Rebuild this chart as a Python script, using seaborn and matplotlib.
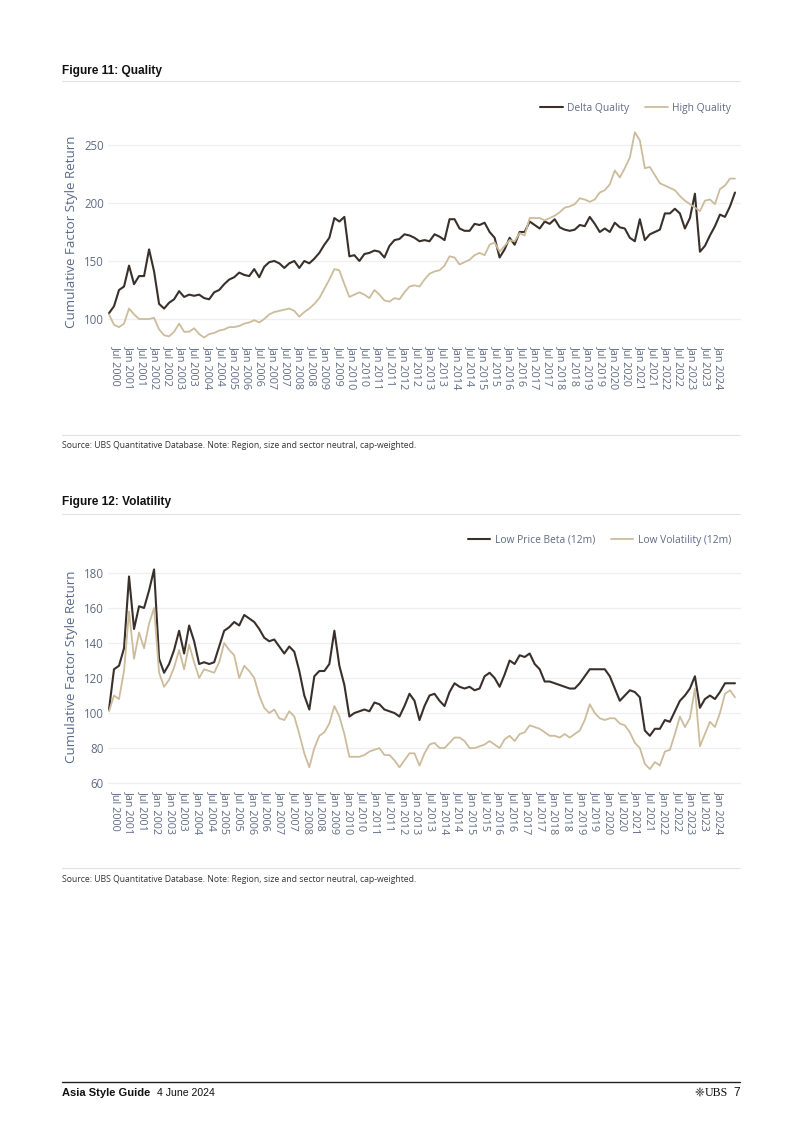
import numpy as np
import pandas as pd
import matplotlib
matplotlib.use("Agg")
import matplotlib.pyplot as plt
import seaborn as sns

# ---------------- data ----------------
delta_quality = [105, 111, 125, 128, 146, 130, 137, 137, 160, 141, 113, 109, 114, 117, 124, 119, 121, 120, 121, 118,
                 117, 123, 125, 130, 134, 136, 140, 138, 137, 143, 136, 145, 149, 150, 148, 144, 148, 150, 144, 150,
                 148, 152, 157, 164, 170, 187, 184, 188, 154, 155, 150, 156, 157, 159, 158, 153, 163, 168, 169, 173,
                 172, 170, 167, 168, 167, 173, 171, 168, 186, 186, 178, 176, 176, 182, 181, 183, 175, 170, 153, 160,
                 170, 164, 175, 175, 184, 181, 178, 184, 182, 186, 179, 177, 176, 177, 181, 180, 188, 182, 175, 178,
                 175, 183, 179, 178, 170, 167, 186, 168, 173, 175, 177, 191, 191, 195, 191, 178, 187, 208, 158, 163,
                 172, 180, 190, 188, 197, 209]
high_quality = [104, 95, 93, 96, 109, 104, 100, 100, 100, 101, 91, 86, 85, 89, 96, 89, 89, 92, 87, 84,
                87, 88, 90, 91, 93, 93, 94, 96, 97, 99, 97, 100, 104, 106, 107, 108, 109, 107, 102, 106,
                109, 113, 118, 126, 134, 143, 142, 130, 119, 121, 123, 121, 118, 125, 121, 116, 115, 118, 117, 123,
                128, 129, 128, 134, 139, 141, 142, 146, 154, 153, 147, 149, 151, 155, 157, 155, 164, 166, 158, 163,
                168, 167, 174, 172, 187, 187, 187, 185, 187, 189, 192, 196, 197, 199, 204, 203, 201, 203, 209, 211,
                216, 228, 222, 230, 239, 261, 254, 230, 231, 224, 217, 215, 213, 211, 206, 202, 199, 196, 193, 202,
                203, 199, 212, 215, 221, 221]

low_price_beta = [102, 125, 127, 137, 178, 148, 161, 160, 170, 182, 131, 123, 128, 136, 147, 134, 150, 141, 128, 129,
                  128, 129, 138, 147, 149, 152, 150, 156, 154, 152, 148, 143, 141, 142, 138, 134, 138, 135, 124, 110,
                  102, 121, 124, 124, 128, 147, 127, 116, 98, 100, 101, 102, 101, 106, 105, 102, 101, 100, 98, 104,
                  111, 107, 96, 104, 110, 111, 107, 104, 112, 117, 115, 114, 115, 113, 114, 121, 123, 120, 115, 122,
                  130, 128, 133, 132, 134, 128, 125, 118, 118, 117, 116, 115, 114, 114, 117, 121, 125, 125, 125, 125,
                  121, 114, 107, 110, 113, 112, 109, 90, 87, 91, 91, 96, 95, 101, 107, 110, 114, 121, 103, 108,
                  110, 108, 112, 117, 117, 117]
low_volatility = [101, 110, 108, 124, 158, 131, 146, 137, 151, 160, 123, 115, 119, 126, 136, 125, 139, 129, 120, 125,
                  124, 123, 129, 140, 136, 133, 120, 127, 124, 120, 110, 103, 100, 102, 97, 96, 101, 98, 88, 77,
                  69, 80, 87, 89, 94, 104, 98, 88, 75, 75, 75, 76, 78, 79, 80, 76, 76, 73, 69, 73,
                  77, 77, 70, 77, 82, 83, 80, 80, 83, 86, 86, 84, 80, 80, 81, 82, 84, 82, 80, 85,
                  87, 84, 88, 89, 93, 92, 91, 89, 87, 87, 86, 88, 86, 88, 90, 96, 105, 100, 97, 96,
                  97, 97, 94, 93, 89, 83, 80, 71, 68, 72, 70, 78, 79, 88, 98, 92, 97, 114, 81, 88,
                  95, 92, 100, 111, 113, 109]

quality_ticklabels = ["Jul 2000", "Jan 2001", "Jul 2001", "Jan 2002", "Jul 2002", "Jan 2003", "Jul 2003", "Jan 2004",
                      "Jul 2004", "Jan 2005", "Jan 2006", "Jul 2006", "Jan 2007", "Jul 2007", "Jan 2008", "Jul 2008",
                      "Jan 2009", "Jul 2009", "Jan 2010", "Jul 2010", "Jan 2011", "Jul 2011", "Jan 2012", "Jul 2012",
                      "Jan 2013", "Jul 2013", "Jan 2014", "Jul 2014", "Jan 2015", "Jul 2015", "Jan 2016", "Jul 2016",
                      "Jan 2017", "Jul 2017", "Jan 2018", "Jul 2018", "Jan 2019", "Jul 2019", "Jan 2020", "Jul 2020",
                      "Jan 2021", "Jul 2021", "Jan 2022", "Jul 2022", "Jan 2023", "Jul 2023", "Jan 2024"]
vol_ticklabels = ["Jul 2000", "Jan 2001", "Jul 2001", "Jan 2002", "Jan 2003", "Jul 2003", "Jan 2004", "Jul 2004",
                  "Jan 2005", "Jul 2005", "Jan 2006", "Jul 2006", "Jan 2007", "Jul 2007", "Jan 2008", "Jul 2008",
                  "Jan 2009", "Jan 2010", "Jul 2010", "Jan 2011", "Jul 2011", "Jan 2012", "Jan 2013", "Jul 2013",
                  "Jan 2014", "Jul 2014", "Jan 2015", "Jul 2015", "Jan 2016", "Jul 2016", "Jan 2017", "Jul 2017",
                  "Jan 2018", "Jul 2018", "Jan 2019", "Jul 2019", "Jan 2020", "Jul 2020", "Jan 2021", "Jul 2021",
                  "Jan 2022", "Jul 2022", "Jan 2023", "Jul 2023", "Jan 2024"]

quality_yticks = [100, 150, 200, 250]
vol_yticks = [60, 80, 100, 120, 140, 160, 180]

# ---------------- style ----------------
sns.set_style("white")
plt.rcParams["font.family"] = ["Open Sans", "DejaVu Sans"]

DARK = "#3a302b"
TAN = "#cdbc9c"
AXIS_TXT = "#5f6b84"
GRID = "#efefef"

W, H = 802, 1134
fig = plt.figure(figsize=(W / 100, H / 100), dpi=100)
fig.patch.set_facecolor("white")
# invisible full-figure axes for page furniture (annotations)
page = fig.add_axes([0, 0, 1, 1], zorder=-1)
page.set_axis_off()
page.set_xlim(0, W)
page.set_ylim(H, 0)


def fx(px):
    return px / W


def fy(py):
    return 1 - py / H


def hline(y, x0=62, x1=740, color="#e2e2e2", lw=0.8):
    page.plot([x0, x1], [y, y], color=color, lw=lw)


def make_panel(top_px, bot_px, series, names, ylim, yticks, ticklabels, legend_y, ylabel_y):
    ax = fig.add_axes([fx(108), fy(bot_px), fx(741) - fx(108), (bot_px - top_px) / H])
    n = len(series[0])
    idx = np.arange(n)
    df = pd.DataFrame({"idx": np.tile(idx, 2),
                       "value": np.concatenate([series[0], series[1]]),
                       "series": np.repeat(names, n)})
    sns.lineplot(data=df, x="idx", y="value", hue="series", palette=[DARK, TAN],
                 ax=ax, legend=False, estimator=None)
    ax.lines[0].set_linewidth(1.5)
    ax.lines[1].set_linewidth(1.3)
    ax.set_xlim(-0.2, 126.2)
    ax.set_ylim(*ylim)
    ax.set_yticks(yticks)
    ax.set_yticklabels([str(v) for v in yticks], color=AXIS_TXT, fontsize=8.3)
    pos = np.linspace(1.4, 121.8, len(ticklabels))
    ax.set_xticks(pos)
    ax.set_xticklabels(ticklabels, rotation=270, color=AXIS_TXT, fontsize=7.8, ha="center", va="top")
    ax.tick_params(axis="both", length=0)
    ax.tick_params(axis="y", pad=3)
    ax.tick_params(axis="x", pad=4)
    ax.grid(axis="y", color=GRID, lw=0.9)
    ax.grid(axis="x", visible=False)
    for s in ax.spines.values():
        s.set_visible(False)
    ax.set_xlabel("")
    ax.set_ylabel("")
    fig.text(fx(72), fy(ylabel_y), "Cumulative Factor Style Return", rotation=90,
             ha="center", va="center", color="#5a6a8a", fontsize=9.6)
    handles = [plt.Line2D([], [], color=DARK, lw=1.5), plt.Line2D([], [], color=TAN, lw=1.3)]
    leg = ax.legend(handles, names, loc="center right", bbox_to_anchor=(fx(731), fy(legend_y)),
                    bbox_transform=fig.transFigure, ncol=2, frameon=False, fontsize=7.4,
                    handlelength=2.2, handletextpad=0.45, columnspacing=1.5, borderpad=0,
                    borderaxespad=0)
    for t in leg.get_texts():
        t.set_color("#5f6b84")
    return ax


TITLE_FONT = ["Liberation Sans Narrow", "Liberation Sans", "DejaVu Sans"]
SOURCE = "Source: UBS Quantitative Database. Note: Region, size and sector neutral, cap-weighted."

# Figure 11
page.text(62, 71, "Figure 11: Quality", fontsize=8.6, fontweight="bold",
          family=TITLE_FONT, ha="left", va="center", color="#111111")
hline(81)
make_panel(125, 340, [delta_quality, high_quality], ["Delta Quality", "High Quality"],
           (81.9, 267.2), quality_yticks, quality_ticklabels, 108, 232)
hline(435)
page.text(62, 446, SOURCE, fontsize=6.2, ha="left", va="center", color="#333333")

# Figure 12
page.text(62, 502, "Figure 12: Volatility", fontsize=8.6, fontweight="bold",
          family=TITLE_FONT, ha="left", va="center", color="#111111")
hline(514)
make_panel(560, 785, [low_price_beta, low_volatility], ["Low Price Beta (12m)", "Low Volatility (12m)"],
           (58.9, 187.4), vol_yticks, vol_ticklabels, 540, 667)
hline(868)
page.text(62, 879, SOURCE, fontsize=6.2, ha="left", va="center", color="#333333")

# Footer
hline(1082, color="#222222", lw=1.0)
t_footer = page.text(62, 1093, "Asia Style Guide", fontsize=8.0, fontweight="bold",
                     family=TITLE_FONT, ha="left", va="center", color="#111111")
page.annotate("4 June 2024", xy=(1, 0.5), xycoords=t_footer, xytext=(5, 0),
              textcoords="offset points", fontsize=7.6, family=TITLE_FONT,
              ha="left", va="center", color="#111111")
page.text(704, 1093, "\u2748", fontsize=8.5, family=["DejaVu Sans"],
          ha="right", va="center", color="#222222")
page.text(705, 1093, "UBS", fontsize=8.6, family=["Liberation Serif", "DejaVu Serif"],
          ha="left", va="center", color="#111111")
page.text(740, 1093, "7", fontsize=8.6, family=TITLE_FONT,
          ha="right", va="center", color="#111111")

fig.savefig("out.png", dpi=100, facecolor="white")
